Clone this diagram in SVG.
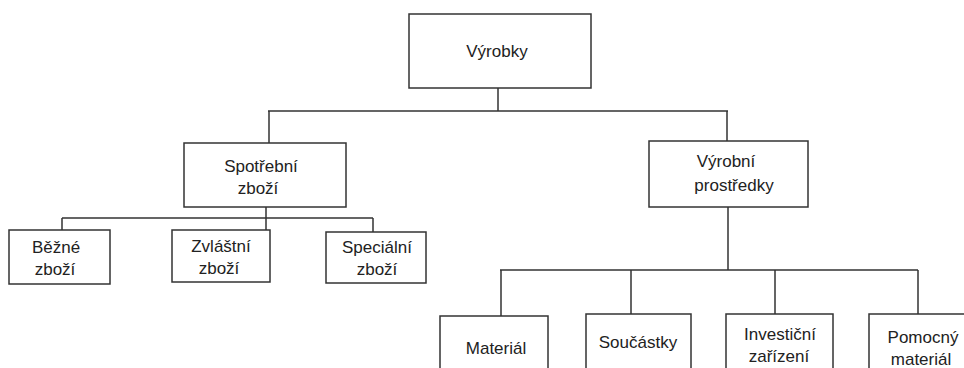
<svg xmlns="http://www.w3.org/2000/svg" width="964" height="368" viewBox="0 0 964 368">
<style>
.box{fill:#fff;stroke:#333;stroke-width:1.5}
.con{fill:none;stroke:#333;stroke-width:1.5}
text{font-family:"Liberation Sans",Arial,sans-serif;font-size:17px;fill:#222;text-anchor:middle}
</style>
<rect width="964" height="368" fill="#fff"/>
<g id="connectors" class="con">
<path d="M498 88V111M268 111H728M269 111V143M727 111V141"/>
<path d="M266 207V218M62 218H373M62 218V230M266 218V230M373 218V232"/>
<path d="M728 207V270M500 270H918M501 270V316M631 270V314M775 270V314M918 270V314"/>
</g>
<g id="vyrobky"><rect class="box" x="409" y="14" width="182" height="74"/><text x="497" y="57">Výrobky</text></g>
<g id="spotrebni"><rect class="box" x="184" y="143" width="162" height="64"/><text x="261" y="172">Spotřební</text><text x="258" y="194">zboží</text></g>
<g id="bezne"><rect class="box" x="9" y="230" width="101" height="54"/><text x="56" y="253">Běžné</text><text x="55" y="275">zboží</text></g>
<g id="zvlastni"><rect class="box" x="172" y="230" width="98" height="52"/><text x="221" y="252">Zvláštní</text><text x="219" y="274">zboží</text></g>
<g id="specialni"><rect class="box" x="326" y="232" width="100" height="51"/><text x="377" y="253">Speciální</text><text x="377" y="275">zboží</text></g>
<g id="vyrobni"><rect class="box" x="649" y="141" width="159" height="66"/><text x="726" y="167">Výrobní</text><text x="734" y="191">prostředky</text></g>
<g id="material"><rect class="box" x="440" y="316" width="108" height="70"/><text x="496" y="354">Materiál</text></g>
<g id="soucastky"><rect class="box" x="586" y="314" width="105" height="70"/><text x="638" y="348">Součástky</text></g>
<g id="investicni"><rect class="box" x="726" y="314" width="107" height="70"/><text x="780" y="340">Investiční</text><text x="779" y="362">zařízení</text></g>
<g id="pomocny"><rect class="box" x="869" y="314" width="110" height="70"/><text x="923" y="343">Pomocný</text><text x="921" y="365">materiál</text></g>
</svg>
